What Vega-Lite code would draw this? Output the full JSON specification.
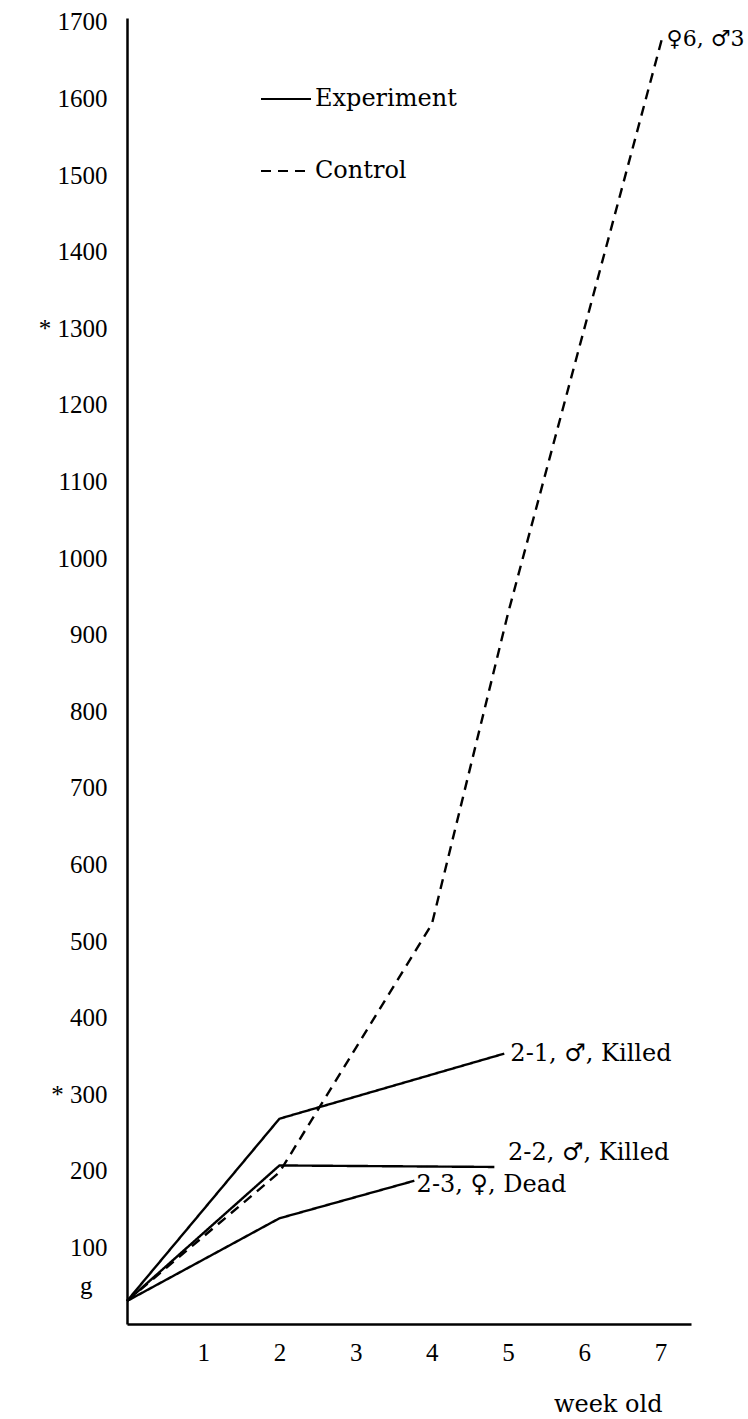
{
  "$schema": "https://vega.github.io/schema/vega-lite/v6.json",
  "width": 564,
  "height": 1306,
  "autosize": {"type": "none"},
  "padding": {"left": 127, "top": 18, "right": 57, "bottom": 95},
  "background": "white",
  "config": {"view": {"stroke": null}, "font": "Liberation Serif"},
  "datasets": {
    "growth": [
      {"series": "2-1", "type": "Experiment", "week": 0, "weight": 30},
      {"series": "2-1", "type": "Experiment", "week": 2, "weight": 268},
      {"series": "2-1", "type": "Experiment", "week": 4.95, "weight": 353},
      {"series": "2-2", "type": "Experiment", "week": 0, "weight": 30},
      {"series": "2-2", "type": "Experiment", "week": 2, "weight": 207},
      {"series": "2-2", "type": "Experiment", "week": 4.82, "weight": 205},
      {"series": "2-3", "type": "Experiment", "week": 0, "weight": 30},
      {"series": "2-3", "type": "Experiment", "week": 2, "weight": 138},
      {"series": "2-3", "type": "Experiment", "week": 3.77, "weight": 187},
      {"series": "Control", "type": "Control", "week": 0, "weight": 30},
      {"series": "Control", "type": "Control", "week": 2, "weight": 198},
      {"series": "Control", "type": "Control", "week": 4, "weight": 522},
      {"series": "Control", "type": "Control", "week": 5, "weight": 928},
      {"series": "Control", "type": "Control", "week": 7.03, "weight": 1682}
    ],
    "notes": [
      {"label": "2-1, ♂, Killed", "week": 5.03, "weight": 353},
      {"label": "2-2, ♂, Killed", "week": 5.0, "weight": 223},
      {"label": "2-3, ♀, Dead", "week": 3.8, "weight": 181}
    ],
    "topnote": [
      {"label": "♀6, ♂3", "week": 7.08, "weight": 1678}
    ]
  },
  "layer": [
    {
      "data": {"name": "growth"},
      "mark": {"type": "line", "color": "black", "strokeWidth": 2.4},
      "encoding": {
        "x": {
          "field": "week",
          "type": "quantitative",
          "scale": {"domain": [0, 7.4], "nice": false, "zero": true},
          "axis": {
            "values": [1, 2, 3, 4, 5, 6, 7],
            "format": "d",
            "title": "week old",
            "grid": false,
            "ticks": false,
            "tickSize": 0,
            "domainColor": "black",
            "domainWidth": 2.5,
            "labelFont": "Liberation Serif",
            "labelFontSize": 25,
            "labelColor": "black",
            "labelBaseline": "alphabetic",
            "labelPadding": 36,
            "labelFlush": false,
            "labelOverlap": false,
            "titleFont": "DejaVu Serif",
            "titleFontSize": 24,
            "titleFontWeight": "normal",
            "titleColor": "black",
            "titleAlign": "right",
            "titleBaseline": "alphabetic",
            "titleX": 535,
            "titleY": 87
          }
        },
        "y": {
          "field": "weight",
          "type": "quantitative",
          "scale": {"domain": [0, 1705], "nice": false, "zero": true},
          "axis": {
            "values": [50, 100, 200, 300, 400, 500, 600, 700, 800, 900, 1000, 1100, 1200, 1300, 1400, 1500, 1600, 1700],
            "labelExpr": "datum.value == 50 ? 'g' : datum.value == 1300 ? '*  1300' : datum.value == 300 ? '*    300' : datum.label",
            "format": "d",
            "title": null,
            "grid": false,
            "ticks": false,
            "tickSize": 0,
            "domainColor": "black",
            "domainWidth": 2.5,
            "labelFont": "Liberation Serif",
            "labelFontSize": 25,
            "labelColor": "black",
            "labelPadding": {"condition": {"test": "datum.value == 50", "value": 35}, "value": 20},
            "labelFlush": false,
            "labelOverlap": false,
            "labelBound": false
          }
        },
        "detail": {"field": "series", "type": "nominal"},
        "strokeDash": {
          "field": "type",
          "type": "nominal",
          "scale": {"domain": ["Experiment", "Control"], "range": [[1, 0], [10, 7]]},
          "legend": {
            "orient": "none",
            "legendX": 133,
            "legendY": 55,
            "title": null,
            "symbolType": "stroke",
            "symbolSize": 2500,
            "symbolStrokeWidth": 2,
            "symbolStrokeColor": "black",
            "labelFont": "DejaVu Serif",
            "labelFontSize": 24,
            "labelColor": "black",
            "labelOffset": 3,
            "rowPadding": 34,
            "padding": 0
          }
        }
      }
    },
    {
      "data": {"name": "notes"},
      "mark": {"type": "text", "align": "left", "baseline": "middle", "font": "DejaVu Serif", "fontSize": 24, "color": "black"},
      "encoding": {
        "x": {"field": "week", "type": "quantitative"},
        "y": {"field": "weight", "type": "quantitative"},
        "text": {"field": "label", "type": "nominal"}
      }
    },
    {
      "data": {"name": "topnote"},
      "mark": {"type": "text", "align": "left", "baseline": "middle", "font": "DejaVu Serif", "fontSize": 22, "color": "black"},
      "encoding": {
        "x": {"field": "week", "type": "quantitative"},
        "y": {"field": "weight", "type": "quantitative"},
        "text": {"field": "label", "type": "nominal"}
      }
    }
  ]
}
